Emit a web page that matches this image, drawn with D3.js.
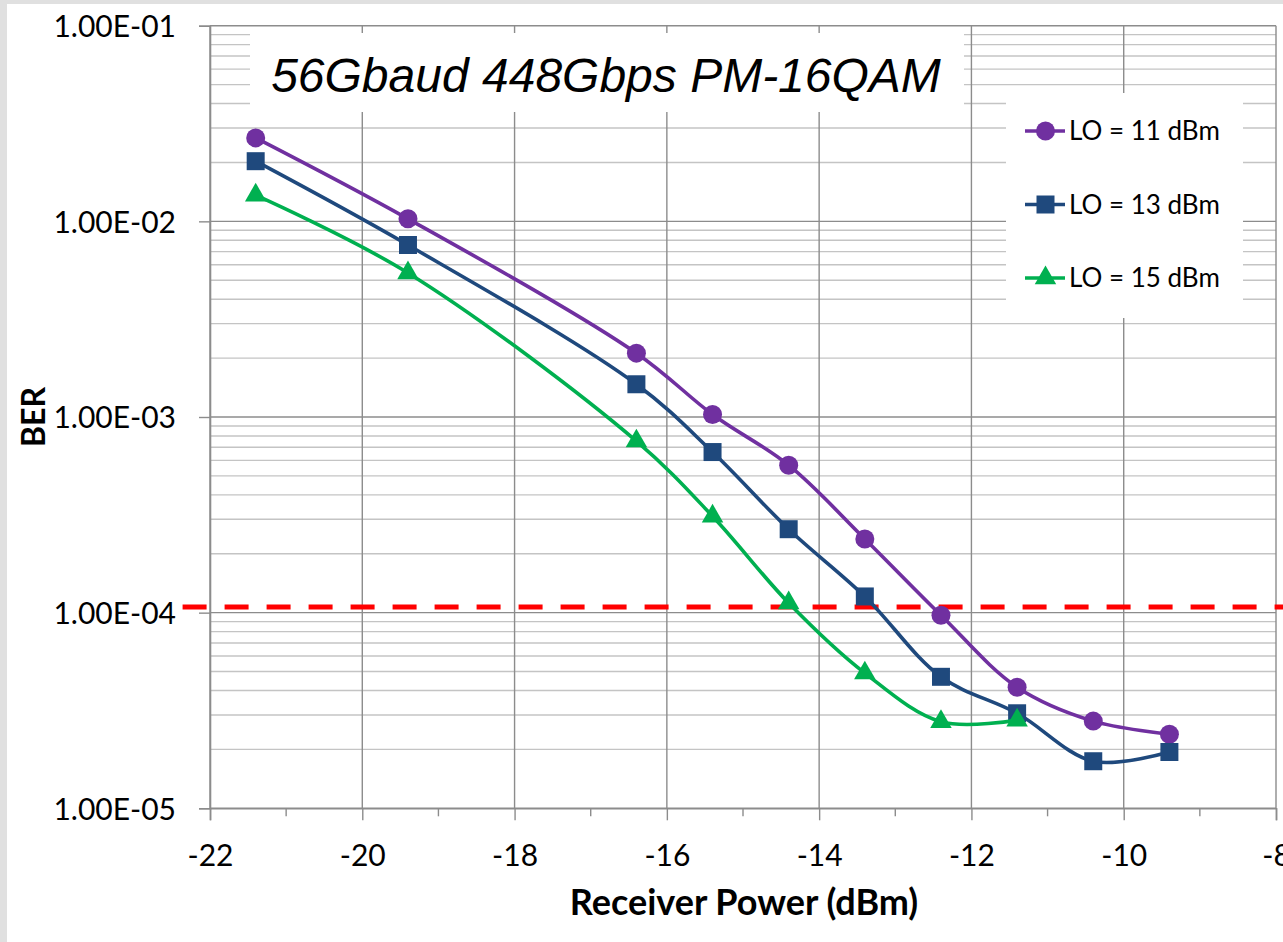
<!DOCTYPE html>
<html>
<head>
<meta charset="utf-8">
<script src="https://cdn.jsdelivr.net/npm/d3@7"></script>
<style>
  body { margin: 0; background: #fff; }
  svg { display: block; }
</style>
</head>
<body>
<svg id="chart" width="1283" height="942"></svg>
<script>
// data
var powerX = [-21.4, -19.4, -16.4, -15.4, -14.4, -13.4, -12.4, -11.4, -10.4, -9.4]
var berLO11 = [2.67e-2, 1.03e-2, 2.12e-3, 1.03e-3, 5.67e-4, 2.38e-4, 9.7e-5, 4.16e-5, 2.79e-5, 2.39e-5]
var berLO13 = [2.03e-2, 7.57e-3, 1.47e-3, 6.62e-4, 2.67e-4, 1.21e-4, 4.7e-5, 3.06e-5, 1.74e-5, 1.94e-5]
var berLO15 = [1.36e-2, 5.45e-3, 7.53e-4, 3.11e-4, 1.12e-4, 4.91e-5, 2.77e-5, 2.82e-5]
var thresholdX = [-22.36, -7.9]
var thresholdBER = [1.07e-4, 1.07e-4]

var seriesNames = ["LO = 11 dBm", "LO = 13 dBm", "LO = 15 dBm"]
var seriesColors = ["#7030A0", "#1F497D", "#00B050"]
var seriesShapes = ["circle", "square", "triangle"]

var xTicks = [-22, -20, -18, -16, -14, -12, -10, -8]
var xTickLabels = ["-22", "-20", "-18", "-16", "-14", "-12", "-10", "-8"]
var xMinorTicks = [-21, -19, -17, -15, -13, -11, -9]
var yTicks = [1e-5, 1e-4, 1e-3, 1e-2, 1e-1]
var yTickLabels = ["1.00E-05", "1.00E-04", "1.00E-03", "1.00E-02", "1.00E-01"]

var chartTitle = "56Gbaud 448Gbps PM-16QAM"
var xTitle = "Receiver Power (dBm)"
var yTitle = "BER"

var labelFont = "Lato, 'Open Sans', sans-serif"

var svg = d3.select("#chart")

// grey frame at top / left, white sheet
svg.append("rect").attr("width", 1283).attr("height", 942).attr("fill", "#e0e0e0")
svg.append("rect").attr("x", 7).attr("y", 4).attr("width", 1283).attr("height", 942).attr("fill", "#fff")

var x = d3.scaleLinear().domain([-22, -8]).range([210, 1276])
var y = d3.scaleLog().domain([1e-5, 1e-1]).range([808.3, 25.7])

var grid = svg.append("g")

// minor horizontal grid: 2..9 in each decade
var minorY = []
yTicks.slice(0, -1).forEach(d => { for (var k = 2; k <= 9; k++) minorY.push(d * k) })

grid.selectAll(".ymin").data(minorY).enter().append("line")
    .attr("x1", x(-22)).attr("x2", x(-8))
    .attr("y1", d => y(d)).attr("y2", d => y(d))
    .attr("stroke", "#c4c4c4").attr("stroke-width", 1.4)

grid.selectAll(".xmaj").data(xTicks).enter().append("line")
    .attr("x1", d => x(d)).attr("x2", d => x(d))
    .attr("y1", y(1e-1)).attr("y2", y(1e-5))
    .attr("stroke", "#8c8c8c").attr("stroke-width", 1.4)

grid.selectAll(".ymaj").data(yTicks).enter().append("line")
    .attr("x1", x(-22)).attr("x2", x(-8))
    .attr("y1", d => y(d)).attr("y2", d => y(d))
    .attr("stroke", "#8c8c8c").attr("stroke-width", 1.4)

// axes
var yAxis = svg.append("g")
    .attr("transform", `translate(${x(-22)},0)`)
    .call(d3.axisLeft(y).tickValues(yTicks)
        .tickFormat((d, i) => yTickLabels[i]).tickSize(11).tickPadding(23))
yAxis.select(".domain").attr("stroke", "#8c8c8c").attr("stroke-width", 1.6)
yAxis.selectAll(".tick line").attr("stroke", "#8c8c8c").attr("stroke-width", 1.4)
yAxis.selectAll(".tick text").attr("font-family", labelFont).attr("font-size", 30)
    .attr("fill", "#000").attr("dy", "0.36em")

var xAxis = svg.append("g")
    .attr("transform", `translate(0,${y(1e-5)})`)
    .call(d3.axisBottom(x).tickValues(xTicks)
        .tickFormat((d, i) => xTickLabels[i]).tickSize(12).tickPadding(24))
xAxis.select(".domain").attr("stroke", "#8c8c8c").attr("stroke-width", 1.6)
xAxis.selectAll(".tick line").attr("stroke", "#8c8c8c").attr("stroke-width", 1.4)
xAxis.selectAll(".tick text").attr("font-family", labelFont).attr("font-size", 30)
    .attr("fill", "#000")

xAxis.selectAll(".minor").data(xMinorTicks).enter().append("line")
    .attr("x1", d => x(d)).attr("x2", d => x(d))
    .attr("y1", 0).attr("y2", 8)
    .attr("stroke", "#8c8c8c").attr("stroke-width", 1.4)

// title box
svg.append("rect").attr("x", 250).attr("y", 33).attr("width", 714).attr("height", 79).attr("fill", "#fff")
svg.append("text").attr("x", 606).attr("y", 92)
    .attr("text-anchor", "middle")
    .attr("font-family", "'Liberation Sans', Arial, sans-serif")
    .attr("font-style", "italic").attr("font-size", 48)
    .text(chartTitle)

// axis titles
svg.append("text").attr("x", 744).attr("y", 915)
    .attr("text-anchor", "middle").attr("font-family", labelFont)
    .attr("font-weight", "bold").attr("font-size", 36)
    .text(xTitle)

svg.append("text").attr("transform", "translate(45,417) rotate(-90)")
    .attr("text-anchor", "middle").attr("font-family", labelFont)
    .attr("font-weight", "bold").attr("font-size", 32)
    .text(yTitle)

// threshold
svg.append("path")
    .datum(thresholdX.map((d, i) => [d, thresholdBER[i]]))
    .attr("d", d3.line().x(d => x(d[0])).y(d => y(d[1])))
    .attr("fill", "none").attr("stroke", "#ff0000")
    .attr("stroke-width", 5).attr("stroke-dasharray", "24,18")

// series
var series = [berLO11, berLO13, berLO15].map((vals, i) => ({
    name: seriesNames[i], color: seriesColors[i], shape: seriesShapes[i],
    points: vals.map((v, j) => [powerX[j], v])
}))

var line = d3.line().x(d => x(d[0])).y(d => y(d[1])).curve(d3.curveCatmullRom.alpha(0.5))

var symbolFor = shape => {
    if (shape == "circle") return d3.symbol().type(d3.symbolCircle).size(Math.PI * 9.5 * 9.5)
    if (shape == "square") return d3.symbol().type(d3.symbolSquare).size(18 * 18)
    return d3.symbol().type(d3.symbolTriangle).size(200)
}

series.forEach(s => {
    svg.append("path").datum(s.points)
        .attr("d", line)
        .attr("fill", "none").attr("stroke", s.color).attr("stroke-width", 3.6)
    svg.selectAll(null).data(s.points).enter().append("path")
        .attr("transform", d => `translate(${x(d[0])},${y(d[1])})`)
        .attr("d", symbolFor(s.shape)())
        .attr("fill", s.color)
})

// legend
var legend = svg.append("g")
legend.append("rect").attr("x", 1006).attr("y", 93).attr("width", 237).attr("height", 225).attr("fill", "#fff")
var items = legend.selectAll(".item").data(series).enter().append("g")
    .attr("transform", (d, i) => `translate(0,${131 + i * 73.5})`)
items.append("line").attr("x1", 1025).attr("x2", 1065)
    .attr("stroke", d => d.color).attr("stroke-width", 3.6)
items.append("path").attr("transform", "translate(1045.5,0)")
    .attr("d", d => symbolFor(d.shape)())
    .attr("fill", d => d.color)
items.append("text").attr("x", 1069).attr("dy", "0.36em")
    .attr("font-family", labelFont).attr("font-size", 26)
    .text(d => d.name)
</script>
</body>
</html>
